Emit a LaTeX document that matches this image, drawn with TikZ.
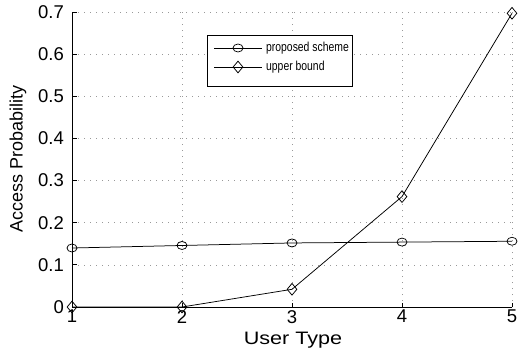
\documentclass[tikz,border=0pt]{standalone}
\usepackage{fontspec}
\setmainfont{Liberation Sans}
\usetikzlibrary{shapes.geometric}
\begin{document}
\begin{tikzpicture}[x=1pt,y=-1pt,
  gridline/.style={gray!80, line width=0.6pt, dash pattern=on 0.8pt off 5.2pt},
  axisline/.style={black, line width=0.8pt},
  dataline/.style={black, line width=0.75pt},
  circmark/.style={draw, ellipse, line width=0.75pt, minimum width=10pt, minimum height=8pt, inner sep=0pt},
  diamark/.style={draw, diamond, line width=0.75pt, minimum width=10pt, minimum height=12pt, inner sep=0pt},
  ticklab/.style={font=\fontsize{18.5}{20}\selectfont, inner sep=0pt},
  axlab/.style={font=\fontsize{18}{20}\selectfont, inner sep=0pt},
  leglab/.style={font=\fontsize{13}{14}\selectfont, inner sep=0pt, anchor=west, xscale=0.8, transform shape}]
\useasboundingbox (0,0) rectangle (519,358);
\fill[white] (0,0) rectangle (519,358);
\begin{scope}[shift={(72,307)}, x=110pt, y=421.4pt]
  % grid
  \foreach \u in {1,2,3,4} \draw[gridline] (\u,0) -- (\u,0.7);
  \foreach \v in {0.1,0.2,0.3,0.4,0.5,0.6,0.7} \draw[gridline] (0,\v) -- (4,\v);
  % axes
  \coordinate (o) at (0,0);
  \coordinate (ytop) at (0,0.7);
  \coordinate (xend) at (4,0);
  \draw[axisline] (ytop) -- (o) -- (xend);
  \foreach \u/\l in {0/1,1/2,2/3,3/4,4/5} {
    \draw[axisline] (\u,0) -- ++(0,4.5pt);
    \node[ticklab, anchor=north] (xt\l) at ([yshift=-3pt]\u,0) {\l};
  }
  \foreach \v/\l in {0/0,0.1/0.1,0.2/0.2,0.3/0.3,0.4/0.4,0.5/0.5,0.6/0.6,0.7/0.7} {
    \draw[axisline] (0,\v) -- ++(4.5pt,0);
    \node[ticklab, anchor=east] (yt\l) at ([xshift=-8pt]0,\v) {\l};
  }
  % data
  \coordinate (p1) at (0,0.140);
  \coordinate (p2) at (1,0.146);
  \coordinate (p3) at (2,0.152);
  \coordinate (p4) at (3,0.154);
  \coordinate (p5) at (4,0.156);
  \coordinate (u1) at (0,0);
  \coordinate (u2) at (1,0);
  \coordinate (u3) at (2,0.042);
  \coordinate (u4) at (3,0.262);
  \coordinate (u5) at (4,0.697);
  \draw[dataline] (p1) -- (p2) -- (p3) -- (p4) -- (p5);
  \draw[dataline] (u1) -- (u2) -- (u3) -- (u4) -- (u5);
  \foreach \i in {1,...,5} {
    \node[circmark] (pm\i) at (p\i) {};
    \node[diamark] (um\i) at (u\i) {};
  }
\end{scope}
% axis labels
\node[axlab, xscale=1.2, transform shape] (xlabel) at (293,340) {User Type};
\node[axlab, rotate=90] (ylabel) at (18,159) {Access Probability};
% legend
\node[draw=black, line width=0.7pt, fill=white, minimum width=145pt, minimum height=51pt, inner sep=0pt] (legend) at (279.5,60.5) {};
\coordinate (l1a) at (214,48);
\coordinate (l1b) at (262,48);
\coordinate (l2a) at (214,67);
\coordinate (l2b) at (262,67);
\draw[dataline] (l1a) -- (l1b);
\draw[dataline] (l2a) -- (l2b);
\node[circmark] (lm1) at (238,48) {};
\node[diamark] (lm2) at (238,67) {};
\node[leglab] (lt1) at (266,48) {proposed scheme};
\node[leglab] (lt2) at (266,67) {upper bound};
\end{tikzpicture}
\end{document}
